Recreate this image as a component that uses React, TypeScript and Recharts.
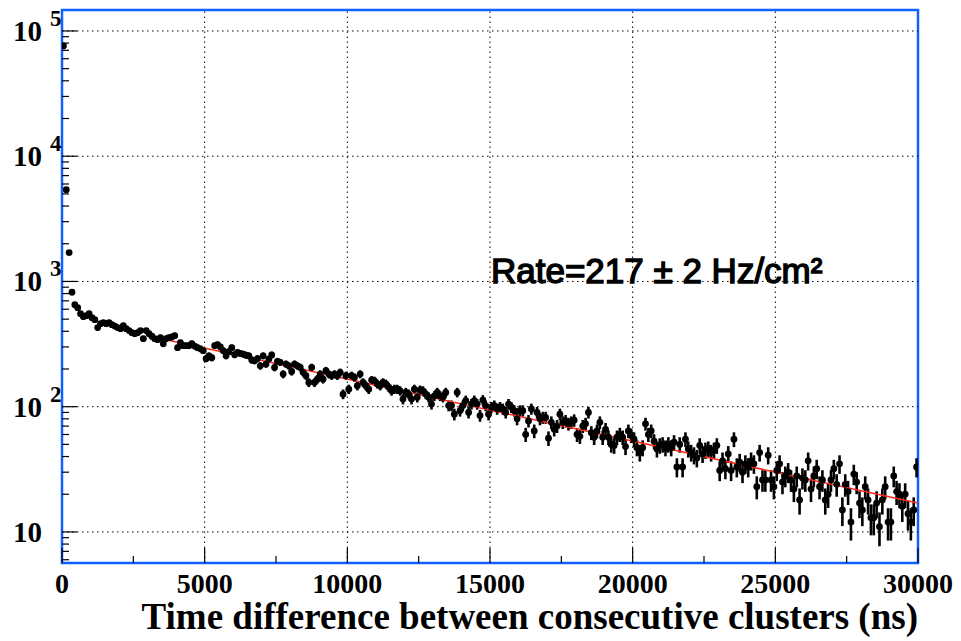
import { ComposedChart, Scatter, Line, XAxis, YAxis, ErrorBar, ReferenceLine, ReferenceArea } from 'recharts';

// histogram: 300 bins of 100 ns, counts
const BIN_WIDTH = 100;
const COUNTS = [
  76000, 5400, 1700, 820, 652, 617, 553, 523, 533, 553,
  513, 495, 428, 460, 469, 460, 469, 452, 440, 428,
  420, 444, 420, 405, 390, 383, 390, 405, 349, 405,
  383, 365, 349, 343, 356, 318, 349, 356, 360, 369,
  296, 324, 307, 307, 307, 318, 305, 296, 290, 280,
  242, 255, 246, 307, 313, 300, 280, 255, 275, 296,
  260, 271, 266, 263, 258, 255, 236, 233, 242, 212,
  255, 219, 240, 259, 206, 230, 226, 182, 219, 212,
  191, 219, 212, 206, 188, 177, 156, 206, 156, 166,
  182, 166, 194, 182, 177, 182, 177, 188, 126, 177,
  138, 177, 171, 147, 182, 156, 147, 138, 163, 161,
  152, 147, 156, 152, 143, 134, 138, 138, 134, 115,
  130, 126, 115, 138, 119, 136, 134, 126, 119, 105,
  122, 130, 122, 119, 130, 102, 102, 87, 130, 93,
  102, 112, 90, 105, 112, 105, 85, 113, 102, 87,
  99, 102, 96, 99, 96, 90, 105, 99, 93, 80,
  93, 93, 60, 77, 96, 64, 90, 80, 82, 82,
  56, 75, 66, 70, 87, 75, 77, 73, 75, 78,
  60, 58, 70, 73, 90, 62, 57, 64, 75, 57,
  66, 57, 50, 49, 57, 60, 57, 48, 64, 59,
  55, 47, 43, 47, 73, 60, 64, 53, 46, 49,
  50, 47, 50, 47, 52, 33, 50, 33, 55, 46,
  43, 41, 39, 49, 42, 45, 46, 43, 45, 49,
  31, 37, 32, 42, 31, 55, 33, 36, 30, 35,
  33, 37, 35, 23, 43, 26, 26, 41, 26, 23,
  31, 35, 25, 28, 30, 26, 22, 28, 18, 27,
  26, 37, 22, 28, 32, 23, 26, 18, 20, 26,
  32, 24, 35, 15, 24, 21, 12, 29, 25, 17,
  15, 23, 18, 13, 13, 17, 11, 18, 23, 12,
  12, 28, 21, 20, 16, 20, 14, 12, 15, 33,
];

// exponential fit (straight on log axis), end points
const FIT_X = [3000, 30000];
const FIT_Y = [369, 17];

const X_TICKS = [0, 2500, 5000, 7500, 10000, 12500, 15000, 17500, 20000, 22500, 25000, 27500, 30000];
const X_GRID = [5000, 10000, 15000, 20000, 25000];
const Y_DECADES = [10, 100, 1000, 10000, 100000];
const Y_TICKS = [
  6, 7, 8, 9, 10, 20, 30, 40, 50, 60, 70, 80, 90,
  100, 200, 300, 400, 500, 600, 700, 800, 900,
  1000, 2000, 3000, 4000, 5000, 6000, 7000, 8000, 9000,
  10000, 20000, 30000, 40000, 50000, 60000, 70000, 80000, 90000, 100000,
];
const Y_MIN = 5.65;
const Y_MAX = 147000;

const X_TITLE = 'Time difference between consecutive clusters (ns)';
const RATE_TEXT = 'Rate=217 \u00b1 2 Hz/cm\u00b2';

const points = COUNTS.map((c, i) => ({ x: i * BIN_WIDTH + BIN_WIDTH / 2, y: c, err: Math.sqrt(c) }));
const fit = FIT_X.map((x, i) => ({ x, fit: FIT_Y[i] }));

const W = 961;
const H = 641;
const FRAME = '#1060ff';
const SERIF = '"Liberation Serif", "Times New Roman", serif';

function XTick({ x, y, payload }: any) {
  const v = payload.value;
  const major = v % 5000 === 0;
  return (
    <g>
      <line x1={x} x2={x} y1={y} y2={y - (major ? 15 : 7)} stroke="#000" strokeWidth={1.2} />
      {major && (
        <text x={x} y={y + 30} textAnchor="middle" fontFamily={SERIF} fontWeight="bold" fontSize={28} fill="#000">
          {v}
        </text>
      )}
    </g>
  );
}

function YTick({ x, y, payload }: any) {
  const v = payload.value;
  const lg = Math.log10(v);
  const exp = Math.round(lg);
  const major = Math.abs(lg - exp) < 1e-6;
  return (
    <g>
      <line x1={x} x2={x + (major ? 15 : 7)} y1={y} y2={y} stroke="#000" strokeWidth={1.2} />
      {major && (
        <text x={x - 20} y={y + 10} textAnchor="end" fontFamily={SERIF} fontWeight="bold" fontSize={29} fill="#000">
          10
        </text>
      )}
      {major && exp > 1 && (
        <text x={x - 12} y={y - 5} textAnchor="start" fontFamily={SERIF} fontWeight="bold" fontSize={23} fill="#000">
          {exp}
        </text>
      )}
    </g>
  );
}

const Dot = (props: any) => <circle cx={props.cx} cy={props.cy} r={3.4} fill="#000" />;

export default function App() {
  return (
    <div style={{ position: 'absolute', left: 0, top: 0, width: W, height: H, background: '#fff' }}>
      <ComposedChart width={W} height={H} margin={{ top: 10, right: 43, bottom: 0, left: 0 }}>
        <XAxis
          dataKey="x"
          type="number"
          domain={[0, 30000]}
          ticks={X_TICKS}
          interval={0}
          allowDataOverflow
          axisLine={false}
          tickLine={false}
          tickSize={0}
          tickMargin={0}
          height={78}
          tick={<XTick />}
        />
        <YAxis
          type="number"
          scale="log"
          domain={[Y_MIN, Y_MAX]}
          ticks={Y_TICKS}
          interval={0}
          allowDataOverflow
          axisLine={false}
          tickLine={false}
          tickSize={0}
          tickMargin={0}
          width={62}
          tick={<YTick />}
        />
        {Y_DECADES.map((d) => (
          <ReferenceLine key={'h' + d} y={d} stroke="#000" strokeWidth={1} strokeDasharray="1.5 3.5" />
        ))}
        {X_GRID.map((g) => (
          <ReferenceLine key={'v' + g} x={g} stroke="#000" strokeWidth={1} strokeDasharray="1.5 3.5" />
        ))}
        <Scatter data={points} dataKey="y" shape={<Dot />} isAnimationActive={false}>
          <ErrorBar dataKey="err" direction="y" width={0} stroke="#000" strokeWidth={2.6} />
        </Scatter>
        <Line data={fit} dataKey="fit" stroke="#ff2a1a" strokeWidth={1.5} dot={false} isAnimationActive={false} />
        <ReferenceArea
          x1={0}
          x2={30000}
          y1={Y_MIN}
          y2={Y_MAX}
          fill="none"
          stroke={FRAME}
          strokeWidth={2.5}
          ifOverflow="visible"
        />
      </ComposedChart>
      <svg width={W} height={H} style={{ position: 'absolute', left: 0, top: 0, pointerEvents: 'none' }}>
        <text x={491} y={283} fontFamily='"Liberation Sans", Arial, sans-serif' fontSize={35} fill="#000" stroke="#000" strokeWidth={1.4}>
          {RATE_TEXT}
        </text>
        <text x={918} y={629} textAnchor="end" fontFamily={SERIF} fontWeight="bold" fontSize={37} fill="#000">
          {X_TITLE}
        </text>
      </svg>
    </div>
  );
}
